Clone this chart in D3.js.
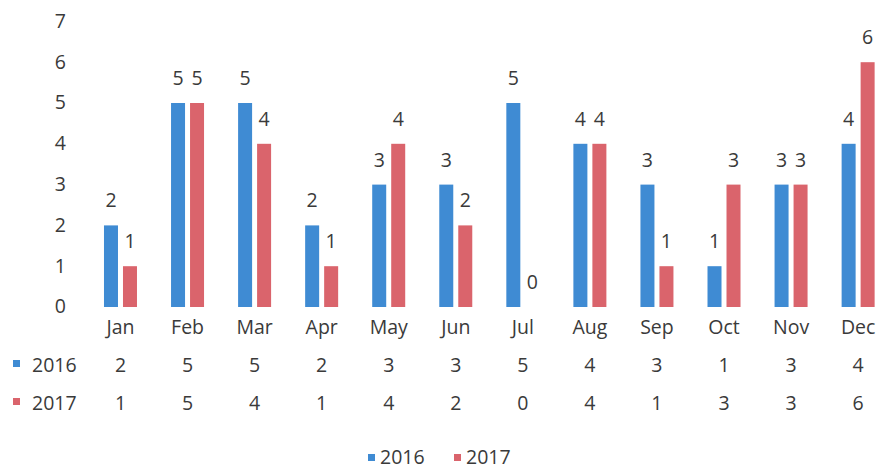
<!DOCTYPE html>
<html>
<head>
<meta charset="utf-8">
<script src="https://cdn.jsdelivr.net/npm/d3@7"></script>
<style>
  body { margin: 0; background: #fff; }
  text { font-family: "Open Sans", sans-serif; fill: #3a3a3a; }
</style>
</head>
<body>
<div id="chart-area"></div>
<script>
// Data
var months = ["Jan", "Feb", "Mar", "Apr", "May", "Jun", "Jul", "Aug", "Sep", "Oct", "Nov", "Dec"];
var series = ["2016", "2017"];
var values2016 = [2, 5, 5, 2, 3, 3, 5, 4, 3, 1, 3, 4];
var values2017 = [1, 5, 4, 1, 4, 2, 0, 4, 1, 3, 3, 6];
var yTicks = [0, 1, 2, 3, 4, 5, 6, 7];

var color = { "2016": "#3f8bd3", "2017": "#da646c" };
var seriesValues = { "2016": values2016, "2017": values2017 };

var width = 877, height = 471;
var fontSize = 19.5;

var svg = d3.select("#chart-area")
    .append("svg")
        .attr("width", width)
        .attr("height", height);

// Scales
var x = d3.scaleBand()
    .domain(months)
    .range([86.95, 891.65])
    .padding(0);

var x1 = d3.scaleBand()
    .domain(series)
    .range([-16.5, 16.5])
    .paddingInner(5 / 19)
    .paddingOuter(0);

var y = d3.scaleLinear()
    .domain([0, 7])
    .range([307, 21.4]);

function cx(m) { return x(m) + x.bandwidth() / 2; }

// Y axis labels (no line)
var yAxis = d3.axisLeft(y)
    .tickValues(yTicks)
    .tickSize(0)
    .tickPadding(0)
    .tickFormat(d3.format("d"));

var yG = svg.append("g")
    .attr("transform", "translate(66,0)")
    .call(yAxis);
yG.select(".domain").remove();
yG.selectAll("text")
    .attr("font-size", fontSize)
    .attr("font-family", null)
    .attr("dy", "0.3em");

// X axis labels
var xAxis = d3.axisBottom(x).tickSize(0).tickPadding(0);
var xG = svg.append("g")
    .attr("transform", "translate(0,320)")
    .call(xAxis);
xG.select(".domain").remove();
xG.selectAll("text")
    .attr("font-size", fontSize)
    .attr("font-family", null)
    .attr("dy", "0.71em");

// Bars
series.forEach(function(s) {
    var vals = seriesValues[s];
    var rows = months.map(function(m, i) { return { month: m, value: vals[i] }; });

    svg.append("g").selectAll("rect")
        .data(rows)
        .enter()
        .append("rect")
            .attr("x", function(d) { return cx(d.month) + x1(s); })
            .attr("y", function(d) { return y(d.value); })
            .attr("width", x1.bandwidth())
            .attr("height", function(d) { return y(0) - y(d.value); })
            .attr("fill", color[s]);

    // Data labels
    svg.append("g").selectAll("text")
        .data(rows)
        .enter()
        .append("text")
            .attr("x", function(d) { return cx(d.month) + x1(s) + x1.bandwidth() / 2; })
            .attr("y", function(d) { return y(d.value) - 18; })
            .attr("text-anchor", "middle")
            .attr("font-size", fontSize)
            .text(function(d) { return d.value; });
});

// Data table below axis
var rowY = { "2016": 372, "2017": 410 };
series.forEach(function(s) {
    var vals = seriesValues[s];
    var row = svg.append("g");
    row.append("rect")
        .attr("x", 13)
        .attr("y", rowY[s] - 12)
        .attr("width", 7)
        .attr("height", 7)
        .attr("fill", color[s]);
    row.append("text")
        .attr("x", 32)
        .attr("y", rowY[s])
        .attr("font-size", fontSize)
        .text(s);
    row.selectAll("text.val")
        .data(vals)
        .enter()
        .append("text")
            .attr("class", "val")
            .attr("x", function(d, i) { return cx(months[i]); })
            .attr("y", rowY[s])
            .attr("text-anchor", "middle")
            .attr("font-size", fontSize)
            .text(function(d) { return d; });
});

// Legend
var legendX = { "2016": 368, "2017": 454 };
series.forEach(function(s) {
    var lg = svg.append("g");
    lg.append("rect")
        .attr("x", legendX[s])
        .attr("y", 454)
        .attr("width", 7)
        .attr("height", 7)
        .attr("fill", color[s]);
    lg.append("text")
        .attr("x", legendX[s] + 12)
        .attr("y", 464)
        .attr("font-size", fontSize)
        .text(s);
});
</script>
</body>
</html>
